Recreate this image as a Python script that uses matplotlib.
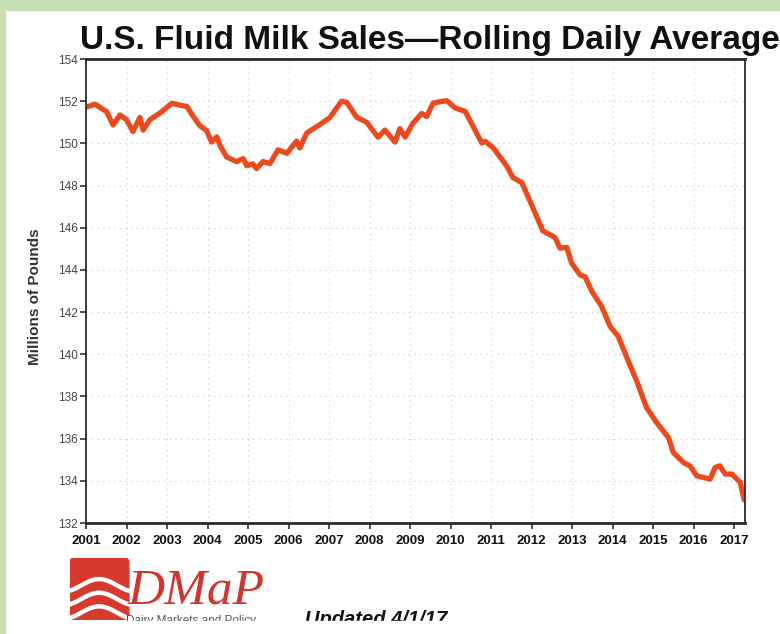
import matplotlib.pyplot as plt
import numpy as np
from matplotlib.patches import Rectangle, FancyBboxPatch

# rolling daily average, million lbs
years = [2001.02, 2001.22, 2001.51, 2001.67, 2001.84, 2002.00, 2002.16, 2002.33,
         2002.41, 2002.58, 2002.83, 2003.12, 2003.32, 2003.49, 2003.64, 2003.81,
         2003.98, 2004.10, 2004.23, 2004.31, 2004.47, 2004.72, 2004.88, 2004.97,
         2005.12, 2005.21, 2005.37, 2005.54, 2005.74, 2005.96, 2006.20, 2006.28,
         2006.45, 2006.78, 2007.02, 2007.31, 2007.44, 2007.68, 2007.93, 2008.21,
         2008.38, 2008.63, 2008.75, 2008.88, 2009.07, 2009.29, 2009.41, 2009.57,
         2009.78, 2009.91, 2010.11, 2010.36, 2010.56, 2010.77, 2010.85, 2011.05,
         2011.39, 2011.54, 2011.76, 2011.96, 2012.28, 2012.58, 2012.70, 2012.87,
         2012.99, 2013.20, 2013.32, 2013.49, 2013.73, 2013.94, 2014.14, 2014.39,
         2014.60, 2014.84, 2015.09, 2015.38, 2015.50, 2015.75, 2015.91, 2016.08,
         2016.41, 2016.53, 2016.65, 2016.78, 2016.94, 2017.15, 2017.25]
sales = [151.73, 151.86, 151.50, 150.87, 151.35, 151.12, 150.56, 151.23,
         150.63, 151.13, 151.44, 151.90, 151.81, 151.75, 151.30, 150.84,
         150.60, 150.06, 150.31, 149.89, 149.36, 149.13, 149.28, 148.94,
         149.03, 148.80, 149.14, 149.04, 149.69, 149.53, 150.11, 149.78,
         150.49, 150.90, 151.22, 152.00, 151.94, 151.24, 151.00, 150.29,
         150.63, 150.06, 150.70, 150.30, 150.95, 151.42, 151.27, 151.91,
         151.99, 152.02, 151.68, 151.52, 150.80, 150.02, 150.10, 149.80,
         148.92, 148.38, 148.14, 147.27, 145.85, 145.54, 145.03, 145.07,
         144.32, 143.76, 143.68, 142.98, 142.27, 141.32, 140.85, 139.67,
         138.72, 137.47, 136.76, 136.05, 135.34, 134.87, 134.71, 134.24,
         134.08, 134.63, 134.71, 134.32, 134.32, 133.94, 133.10]

xticks = list(range(2001, 2018))
yticks = list(range(132, 155, 2))

fig = plt.figure(figsize=(7.8, 6.34), dpi=100)
fig.patch.set_facecolor("white")

# green frame of the screenshot
fig.add_artist(Rectangle((0, 1 - 10 / 634), 1, 10 / 634, transform=fig.transFigure,
                         color="#c6e0b4", zorder=11))
fig.add_artist(Rectangle((0, 0), 5 / 780, 1, transform=fig.transFigure,
                         color="#c6e0b4", zorder=11))

ax = fig.add_axes([86 / 780, 1 - 523 / 634, (745 - 86) / 780, (523 - 59) / 634])
ax.plot(years, sales, color="#ea4a1c", lw=3.8, solid_joinstyle="round",
        solid_capstyle="round")

ax.set_xlim(2001, 2017.27)
ax.set_ylim(132, 154)
ax.set_xticks(xticks)
ax.set_xticklabels([str(y) for y in xticks], family="Liberation Sans",
                   fontweight="bold", fontsize=9.5, color="#111111")
ax.set_yticks(yticks)
ax.set_yticklabels([str(v) for v in yticks], family="Liberation Sans",
                   fontsize=8.5, color="#444444")
ax.tick_params(direction="out", length=4, width=1.2, color="#333333", pad=2)
ax.tick_params(axis="x", pad=5)
ax.grid(True, ls=(0, (1, 4)), color="#cccccc", lw=0.8)

for s in ax.spines.values():
    s.set_color("#2a2a2a")
    s.set_linewidth(1.3)
ax.spines["top"].set_linewidth(2)
ax.spines["bottom"].set_linewidth(2)

fig.text(35 / 780, 1 - 297 / 634, "Millions of Pounds", rotation=90, fontsize=11,
         fontweight="bold", family="Liberation Sans", color="#333333",
         ha="center", va="center")

fig.text(80 / 780, 1 - 49 / 634, "U.S. Fluid Milk Sales\u2014Rolling Daily Average",
         fontsize=24, fontweight="bold", family="Liberation Sans",
         ha="left", va="baseline", color="#111111")

# DMaP logo
logo = fig.add_axes([70 / 780, 14 / 634, 62 / 780, 62 / 634])
logo.set_xlim(0, 1)
logo.set_ylim(0, 1)
logo.axis("off")
logo.add_patch(FancyBboxPatch((0.0, 0.0), 0.95, 1.0,
                              boxstyle="round,pad=0,rounding_size=0.08",
                              color="#d53a2c"))
t = np.linspace(0.0, 0.95, 50)
for off in (0.12, 0.34, 0.56):
    logo.plot(t, off + 0.1 * np.cos((t - 0.47) * 5.5), color="white", lw=3.2)

fig.text(128 / 780, 1 - 603 / 634, "DMaP", fontsize=37, style="italic",
         color="#d0352e", family="Liberation Serif", ha="left", va="baseline")
fig.text(126 / 780, 1 - 624 / 634, "Dairy Markets and Policy", fontsize=8.5,
         family="Liberation Sans", color="#555555", ha="left", va="baseline")
fig.text(305 / 780, 1 - 625 / 634, "Updated 4/1/17", fontsize=14.5, fontweight="bold",
         style="italic", family="Liberation Sans", color="#111111",
         ha="left", va="baseline")

# the screenshot is cropped just below the footer text
fig.add_artist(Rectangle((5 / 780, 0), 1, 13 / 634, transform=fig.transFigure,
                         color="white", zorder=10))

fig.savefig("out.png", dpi=100)
